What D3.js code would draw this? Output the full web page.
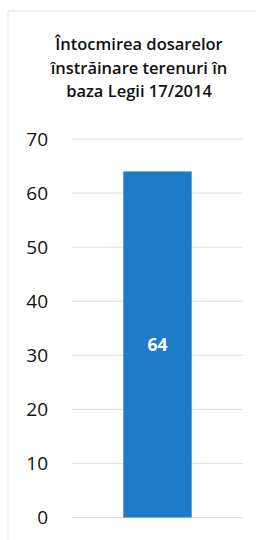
<!DOCTYPE html>
<html>
<head>
<meta charset="utf-8">
<script src="https://cdn.jsdelivr.net/npm/d3@7"></script>
<style>
  html, body { margin: 0; padding: 0; background: #fff; }
  svg { display: block; }
</style>
</head>
<body>
<script>
const titleLines = ["Întocmirea dosarelor", "înstrăinare terenuri în", "baza Legii 17/2014"];
const categories = ["Dosare"];
const values = [64];
const yTicks = [0, 10, 20, 30, 40, 50, 60, 70];

const W = 256, H = 540;
const svg = d3.select("body").append("svg").attr("width", W).attr("height", H);
svg.append("rect").attr("width", W).attr("height", H).attr("fill", "#fff");

// frame
svg.append("rect").attr("x", 8).attr("y", 11).attr("width", 260).attr("height", 540)
  .attr("fill", "none").attr("stroke", "#e2e2e2").attr("stroke-width", 1);

const y = d3.scaleLinear().domain([0, 70]).range([517.5, 139]);
const x = d3.scaleBand().domain(categories).range([72, 243]).padding(0.4286);

// title
const font = "'Open Sans', sans-serif";
svg.append("g").selectAll("text").data(titleLines).join("text")
  .attr("x", 139).attr("y", (d, i) => 50 + i * 23.5)
  .attr("text-anchor", "middle")
  .attr("font-family", font).attr("font-weight", "600").attr("font-size", 16.5)
  .attr("fill", "#111").text(d => d);

// gridlines
svg.append("g").selectAll("line").data(yTicks).join("line")
  .attr("x1", 72).attr("x2", 243)
  .attr("y1", d => y(d)).attr("y2", d => y(d))
  .attr("stroke", "#dcdde6").attr("stroke-width", 1);

// y axis labels
const yAxis = d3.axisLeft(y).tickValues(yTicks).tickSize(0).tickPadding(0);
const gy = svg.append("g").attr("transform", "translate(48,0)").call(yAxis);
gy.select(".domain").remove();
gy.selectAll("text").attr("font-family", font).attr("font-size", 19).attr("fill", "#111");

// bars
svg.append("g").selectAll("rect").data(values).join("rect")
  .attr("x", (d, i) => x(categories[i]))
  .attr("width", x.bandwidth())
  .attr("y", d => y(d))
  .attr("height", d => y(0) - y(d))
  .attr("fill", "#1d7bca");

// value labels
svg.append("g").selectAll("text").data(values).join("text")
  .attr("x", (d, i) => x(categories[i]) + x.bandwidth() / 2)
  .attr("y", d => (y(d) + y(0)) / 2)
  .attr("dy", "0.35em")
  .attr("text-anchor", "middle")
  .attr("font-family", font).attr("font-weight", "bold").attr("font-size", 17.5)
  .attr("fill", "#fff").text(d => d);
</script>
</body>
</html>
